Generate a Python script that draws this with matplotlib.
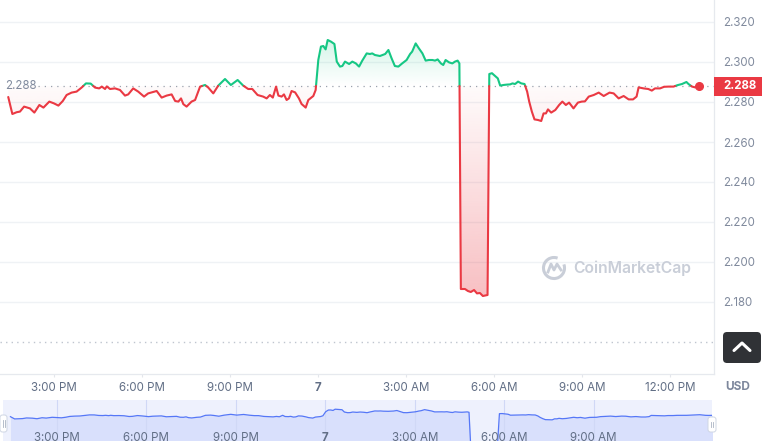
"""
24h price chart, CoinMarketCap style: green/red split around the open
price, gradient fills, right-hand price axis, and a navigator strip below.

Output: out.png (762 x 441)
"""

import matplotlib
matplotlib.use("Agg")
import matplotlib.pyplot as plt
import matplotlib.colors as mcolors
import matplotlib.transforms as mtransforms
import numpy as np
from matplotlib.patches import FancyBboxPatch, PathPatch, Rectangle, Arc
from matplotlib.lines import Line2D

plt.rcParams["font.family"] = ["Inter", "DejaVu Sans"]

# ── Data (hours since 00:00 of day 6, USD) ─────────────────────────────────
HOURS = [
    13.44, 13.58, 13.73, 13.84, 13.98, 14.18, 14.33, 14.50, 14.64, 14.84,
    15.00, 15.15, 15.30, 15.43, 15.60, 15.77, 15.94, 16.09, 16.25, 16.40,
    16.54, 16.63, 16.74, 16.80, 16.91, 17.08, 17.25, 17.42, 17.53, 17.70,
    17.87, 18.07, 18.21, 18.50, 18.67, 18.84, 19.01, 19.13, 19.24, 19.33,
    19.41, 19.52, 19.69, 19.81, 19.98, 20.15, 20.26, 20.43, 20.60, 20.83,
    21.03, 21.26, 21.45, 21.62, 21.76, 21.94, 22.13, 22.25, 22.36, 22.46,
    22.57, 22.65, 22.76, 22.84, 22.93, 23.01, 23.10, 23.22, 23.35, 23.44,
    23.58, 23.67, 23.84, 23.92, 24.01, 24.10, 24.18, 24.26, 24.33, 24.44,
    24.56, 24.64, 24.75, 24.83, 24.92, 25.06, 25.17, 25.29, 25.40, 25.51,
    25.66, 25.77, 25.85, 25.94, 26.11, 26.29, 26.40, 26.51, 26.62, 26.74,
    26.87, 27.02, 27.14, 27.21, 27.33, 27.44, 27.56, 27.67, 27.78, 27.90,
    27.99, 28.08, 28.19, 28.27, 28.35, 28.47, 28.58, 28.67, 28.76, 28.82,
    28.87, 29.01, 29.11, 29.21, 29.32, 29.42, 29.52, 29.62, 29.78, 29.84,
    29.93, 30.04, 30.13, 30.21, 30.32, 30.44, 30.55, 30.63, 30.72, 30.82,
    30.93, 31.04, 31.13, 31.20, 31.29, 31.38, 31.50, 31.61, 31.69, 31.77,
    31.84, 31.95, 32.09, 32.22, 32.33, 32.45, 32.56, 32.71, 32.86, 32.99,
    33.10, 33.23, 33.40, 33.57, 33.74, 33.94, 34.08, 34.25, 34.42, 34.59,
    34.74, 34.86, 34.93, 35.10, 35.26, 35.38, 35.49, 35.66, 35.80, 35.95,
    36.12, 36.25, 36.41, 36.56, 36.63, 36.75, 36.86, 37.00,
]
PRICE = [
    2.2825, 2.2740, 2.2749, 2.2752, 2.2777, 2.2768, 2.2747, 2.2785, 2.2772, 2.2802,
    2.2793, 2.2782, 2.2805, 2.2835, 2.2847, 2.2852, 2.2872, 2.2893, 2.2892, 2.2872,
    2.2868, 2.2877, 2.2865, 2.2878, 2.2865, 2.2868, 2.2860, 2.2832, 2.2838, 2.2868,
    2.2852, 2.2827, 2.2843, 2.2855, 2.2822, 2.2832, 2.2838, 2.2805, 2.2802, 2.2818,
    2.2789, 2.2777, 2.2802, 2.2810, 2.2877, 2.2885, 2.2872, 2.2843, 2.2882, 2.2915,
    2.2885, 2.2910, 2.2882, 2.2865, 2.2865, 2.2835, 2.2827, 2.2818, 2.2835, 2.2822,
    2.2877, 2.2832, 2.2827, 2.2838, 2.2810, 2.2818, 2.2855, 2.2848, 2.2818, 2.2790,
    2.2772, 2.2810, 2.2830, 2.2860, 2.3010, 2.3077, 2.3080, 2.3063, 2.3110, 2.3102,
    2.3090, 2.3002, 2.2977, 2.2980, 2.3002, 2.2990, 2.3002, 2.2993, 2.2977, 2.3007,
    2.3043, 2.3040, 2.3043, 2.3035, 2.3030, 2.3040, 2.3060, 2.3018, 2.2980, 2.2977,
    2.2993, 2.3010, 2.3040, 2.3052, 2.3093, 2.3068, 2.3043, 2.3007, 2.3010, 2.3010,
    2.3007, 2.3013, 2.2993, 2.2985, 2.3010, 2.2998, 2.2993, 2.3002, 2.3007, 2.2993,
    2.1865, 2.1865, 2.1855, 2.1850, 2.1860, 2.1843, 2.1845, 2.1830, 2.1835, 2.2940,
    2.2944, 2.2930, 2.2918, 2.2882, 2.2885, 2.2887, 2.2888, 2.2893, 2.2890, 2.2902,
    2.2893, 2.2890, 2.2852, 2.2802, 2.2752, 2.2713, 2.2710, 2.2705, 2.2743, 2.2743,
    2.2763, 2.2747, 2.2760, 2.2785, 2.2802, 2.2785, 2.2797, 2.2768, 2.2797, 2.2802,
    2.2803, 2.2827, 2.2835, 2.2847, 2.2830, 2.2847, 2.2843, 2.2818, 2.2830, 2.2813,
    2.2813, 2.2827, 2.2873, 2.2868, 2.2865, 2.2857, 2.2868, 2.2868, 2.2876, 2.2877,
    2.2877, 2.2884, 2.2890, 2.2900, 2.2890, 2.2877, 2.2873, 2.2878,
]
OPEN_PRICE = 2.288
LAST_PRICE = 2.288

Y_TICKS = [2.160, 2.180, 2.200, 2.220, 2.240, 2.260, 2.280, 2.300, 2.320]
X_TICKS = [15, 18, 21, 24, 27, 30, 33, 36]
X_LABELS = ["3:00 PM", "6:00 PM", "9:00 PM", "7", "3:00 AM", "6:00 AM", "9:00 AM", "12:00 PM"]
NAV_TICKS = [15, 18, 21, 24, 27, 30, 33]
NAV_LABELS = ["3:00 PM", "6:00 PM", "9:00 PM", "7", "3:00 AM", "6:00 AM", "9:00 AM"]

# ── Style ──────────────────────────────────────────────────────────────────
GREEN, RED = "#16c784", "#ea3943"
GRID = "#eff2f5"
YTXT, XTXT = "#808a9d", "#616e85"
W, H = 762, 441


def split_at(h, p, base):
    """Insert the points where the series crosses `base`."""
    hs, ps = [h[0]], [p[0]]
    for i in range(1, len(h)):
        a, b = p[i - 1] - base, p[i] - base
        if a * b < 0:
            t = a / (a - b)
            hs.append(h[i - 1] + t * (h[i] - h[i - 1]))
            ps.append(base)
        hs.append(h[i])
        ps.append(p[i])
    return np.array(hs), np.array(ps)


def gradient_fill(ax, x, top, bottom, color, y_lo, y_hi, a_hi, a_lo):
    poly = ax.fill_between(x, top, bottom, facecolor="none", edgecolor="none")
    patch = PathPatch(poly.get_paths()[0], transform=ax.transData,
                      facecolor="none", edgecolor="none")
    ax.add_patch(patch)
    rgba = np.zeros((256, 1, 4))
    rgba[..., :3] = mcolors.to_rgb(color)
    rgba[:, 0, 3] = np.linspace(a_hi, a_lo, 256)     # row 0 = top
    im = ax.imshow(rgba, aspect="auto", origin="upper", zorder=1,
                   extent=[x[0], x[-1], y_lo, y_hi], interpolation="bilinear")
    im.set_clip_path(patch)


fig = plt.figure(figsize=(W / 100, H / 100), dpi=100)
fig.patch.set_facecolor("white")

# ── Main chart ─────────────────────────────────────────────────────────────
ax = fig.add_axes([0, 67 / H, 714 / W, 374 / H])
ax.set_facecolor("white")
ax.set_axisbelow(True)

hs, ps = split_at(HOURS, PRICE, OPEN_PRICE)
gradient_fill(ax, hs, np.maximum(ps, OPEN_PRICE), OPEN_PRICE, GREEN,
              OPEN_PRICE, ps.max(), 0.18, 0.0)
gradient_fill(ax, hs, OPEN_PRICE, np.minimum(ps, OPEN_PRICE), RED,
              ps.min(), OPEN_PRICE, 0.02, 0.32)

up = np.where(ps >= OPEN_PRICE, ps, np.nan)
dn = np.where(ps <= OPEN_PRICE, ps, np.nan)
ax.plot(hs, up, color=GREEN, lw=1.5, zorder=3, solid_capstyle="round")
ax.plot(hs, dn, color=RED, lw=1.5, zorder=3, solid_capstyle="round")
ax.plot(HOURS[-1], PRICE[-1], "o", color=RED, ms=5.5, zorder=4, clip_on=False)

# open-price reference line and label
ax.axhline(OPEN_PRICE, xmin=38 / 714, xmax=1.0, color="#9aa1ad",
           lw=0.9, ls=(0, (1, 4)), zorder=2)
ax.text(5 / 714, OPEN_PRICE, f"{OPEN_PRICE:.3f}", color=YTXT, fontsize=8.3,
        va="center", ha="left", transform=ax.get_yaxis_transform(), zorder=5)

ax.set_xlim(13.159, 37.5)
ax.set_ylim(2.144, 2.331)

ax.set_yticks(Y_TICKS)
ax.set_yticklabels([f"{v:.3f}" for v in Y_TICKS])
ax.yaxis.tick_right()
ax.tick_params(axis="y", length=0, pad=6.5, labelsize=8.3, labelcolor=YTXT)
ax.grid(axis="y", color=GRID, lw=1)
gl = ax.get_ygridlines()
gl[0].set_linestyle((0, (1, 3)))
gl[0].set_color("#bfc5cf")

ax.set_xticks(X_TICKS)
ax.set_xticklabels(X_LABELS)
ax.tick_params(axis="x", length=2.5, width=0.8, color="#e3e6eb", pad=3.5,
               labelsize=8.3, labelcolor=XTXT)
ax.get_xticklabels()[3].set_fontweight("bold")

for side in ("top", "left"):
    ax.spines[side].set_visible(False)
for side in ("right", "bottom"):
    ax.spines[side].set_color("#e6e9ee")
    ax.spines[side].set_linewidth(0.9)

# last-price badge
bt = mtransforms.blended_transform_factory(ax.transAxes, ax.transData)
ax.add_patch(Rectangle((1.0, LAST_PRICE - 0.0049), 48 / 714, 0.0095,
                       transform=bt, facecolor=RED, edgecolor="none",
                       clip_on=False, zorder=6))
ax.text(1.0 + 9 / 714, LAST_PRICE - 0.0002, f"{LAST_PRICE:.3f}", transform=bt,
        color="white", fontsize=8.3, fontweight="bold", va="center",
        ha="left", zorder=7, clip_on=False)

# ── Navigator strip ────────────────────────────────────────────────────────
nav = fig.add_axes([3 / W, 0, 709 / W, 41 / H])
nav.set_facecolor("#eef1fd")
nav.fill_between(HOURS, PRICE, 2.0, color="#d9e0fc", lw=0, zorder=1)
nav.plot(HOURS, PRICE, color="#5577f7", lw=0.9, zorder=2)
for t in NAV_TICKS:
    nav.axvline(t, color="#d0d8f6", lw=0.8, zorder=1.5)
for t, lab in zip(NAV_TICKS, NAV_LABELS):
    nav.text(t, 0.22, lab, transform=nav.get_xaxis_transform(), ha="center",
             va="top", fontsize=8.3, color=XTXT,
             fontweight="bold" if lab == "7" else "normal", zorder=3)
nav.set_xlim(13.19, 36.97)
nav.set_ylim(2.190, 2.346)
nav.set_xticks([])
nav.set_yticks([])
for s in nav.spines.values():
    s.set_visible(False)

# ── Overlay decorations in pixel coordinates ───────────────────────────────
ov = fig.add_axes([0, 0, 1, 1], zorder=10)
ov.set_xlim(0, W)
ov.set_ylim(H, 0)
ov.axis("off")
ov.patch.set_alpha(0)

# scroll-to-top button
ov.add_patch(FancyBboxPatch((723, 332), 38, 31, boxstyle="round,pad=0,rounding_size=4",
                            facecolor="#303236", edgecolor="none"))
ov.add_line(Line2D([734, 742, 750], [350.5, 343, 350.5], color="white", lw=2.2,
                   solid_capstyle="round", solid_joinstyle="round"))
ov.text(738, 387, "USD", ha="center", va="center", fontsize=8.5,
        fontweight="bold", color="#7d879c")

# navigator handles
for x0, y0, w_, h_ in ((0, 415, 7, 17), (708, 417, 8, 15)):
    ov.add_patch(FancyBboxPatch((x0, y0), w_, h_, boxstyle="round,pad=0,rounding_size=2.5",
                                facecolor="white", edgecolor="#cfd6e4", lw=0.7))
    cx = x0 + w_ / 2
    for dx in (-1.0, 1.0):
        ov.add_line(Line2D([cx + dx, cx + dx], [y0 + 5, y0 + h_ - 5],
                           color="#aab3c3", lw=0.6))

# watermark
WM = "#c9ced8"
ov.add_patch(Arc((554, 268), 21, 21, theta1=-20, theta2=290, color=WM, lw=2.2))
ov.add_line(Line2D([548, 551, 554, 557, 561], [272, 264, 270, 264, 270],
                   color=WM, lw=2.0, solid_joinstyle="round"))
ov.text(573, 268.5, "CoinMarketCap", ha="left", va="center", fontsize=11.3,
        fontweight="semibold", color=WM)

fig.savefig("out.png", dpi=100, facecolor="white")
